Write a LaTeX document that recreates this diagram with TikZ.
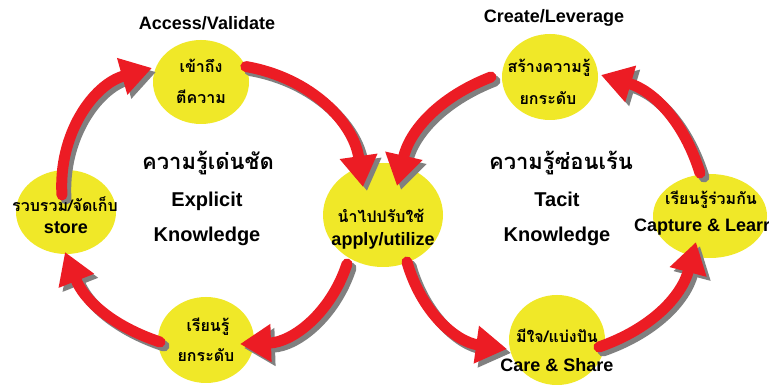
\documentclass[tikz,border=0pt]{standalone}
\usepackage{fontspec}
\setmainfont{Liberation Sans}
\newfontfamily\thai[Script=Thai]{Loma}
\usetikzlibrary{shapes.geometric,arrows.meta,calc}
\definecolor{kyellow}{RGB}{240,232,40}
\definecolor{kred}{RGB}{236,28,36}
\definecolor{kgray}{RGB}{128,128,128}
\begin{document}
\begin{tikzpicture}[x=1pt,y=1pt,
  blob/.style={ellipse, fill=kyellow, draw=none, inner sep=0pt},
  en/.style={font=\bfseries\fontsize{18}{20}\selectfont, inner sep=0pt, anchor=base},
  enbig/.style={font=\bfseries\fontsize{20}{22}\selectfont, inner sep=0pt, anchor=base},
  th/.style={font=\thai\bfseries\fontsize{16}{18}\selectfont, inner sep=0pt, anchor=base},
  thbig/.style={font=\thai\bfseries\fontsize{22}{26}\selectfont, inner sep=0pt, anchor=base},
  redarrow/.style={draw=kred, line width=11pt, line cap=round, -{Triangle[length=31pt,width=36pt]}},
  shadowarrow/.style={draw=kgray, line width=11pt, line cap=round, -{Triangle[length=31pt,width=36pt]}, transform canvas={shift={(4pt,-4pt)}}},
]
\useasboundingbox[fill=white] (0,0) rectangle (769,385);

% circles
\node[blob, minimum width=96pt, minimum height=84pt] (acc) at (201,303) {};
\node[blob, minimum width=100pt, minimum height=84pt] (store) at (66,173) {};
\node[blob, minimum width=120pt, minimum height=104pt] (apply) at (383,170) {};
\node[blob, minimum width=96pt, minimum height=86pt] (learn) at (206,45) {};
\node[blob, minimum width=96pt, minimum height=86pt] (create) at (550,308) {};
\node[blob, minimum width=114pt, minimum height=84pt] (capture) at (710,169) {};
\node[blob, minimum width=96pt, minimum height=90pt] (care) at (557,45) {};

% arrows: left loop (clockwise)
\draw[shadowarrow] (acc.19) to[bend left=36] ($(apply)+(-20,28)$);
\draw[redarrow] (acc.19) to[bend left=36] ($(apply)+(-20,28)$);
\draw[shadowarrow] ($(apply)+(-36,-49)$) to[bend left=35] ($(learn)+(34,-4)$);
\draw[redarrow] ($(apply)+(-36,-49)$) to[bend left=35] ($(learn)+(34,-4)$);
\draw[shadowarrow] ($(learn)+(-46,-2)$) to[bend left=25] ($(store)+(-1,-40)$);
\draw[redarrow] ($(learn)+(-46,-2)$) to[bend left=25] ($(store)+(-1,-40)$);
\draw[shadowarrow] ($(store)+(-4,17)$) to[bend left=39] ($(acc)+(-49,14)$);
\draw[redarrow] ($(store)+(-4,17)$) to[bend left=39] ($(acc)+(-49,14)$);

% arrows: right loop (counter-clockwise)
\draw[shadowarrow] ($(create)+(-59,0)$) to[bend right=28] ($(apply)+(14,29)$);
\draw[redarrow] ($(create)+(-59,0)$) to[bend right=28] ($(apply)+(14,29)$);
\draw[shadowarrow] ($(apply)+(24,-47)$) to[bend right=33] ($(care)+(-50,-9)$);
\draw[redarrow] ($(apply)+(24,-47)$) to[bend right=33] ($(care)+(-50,-9)$);
\draw[shadowarrow] ($(care)+(42,-7)$) to[bend right=28] ($(capture)+(-14,-26)$);
\draw[redarrow] ($(care)+(42,-7)$) to[bend right=28] ($(capture)+(-14,-26)$);
\draw[shadowarrow] ($(capture)+(-10,43)$) to[bend right=28] ($(create)+(51,2)$);
\draw[redarrow] ($(capture)+(-10,43)$) to[bend right=28] ($(create)+(51,2)$);

% circle texts
\node[th] (accT1) at (201,312) {เข้าถึง};
\node[th] (accT2) at (201,281) {ตีความ};
\node[th] (storeT1) at (65,173) {รวบรวม/จัดเก็บ};
\node[en] (storeT2) at (66,151) {store};
\node[th] (applyT1) at (381,162) {นำไปปรับใช้};
\node[en] (applyT2) at (383,139) {apply/utilize};
\node[th] (learnT1) at (208,53) {เรียนรู้};
\node[th] (learnT2) at (206,23) {ยกระดับ};
\node[th] (createT1) at (549,312) {สร้างความรู้};
\node[th] (createT2) at (548,280) {ยกระดับ};
\node[th] (captureT1) at (711,180) {เรียนรู้ร่วมกัน};
\node[en, anchor=base west] (captureT2) at (634,153) {Capture \& Learr};
\node[th] (careT1) at (557,42) {มีใจ/แบ่งปัน};
\node[en] (careT2) at (557,13) {Care \& Share};

% headings
\node[en] (h1) at (207,355) {Access/Validate};
\node[en] (h2) at (554,362) {Create/Leverage};
\node[thbig] (ex1) at (208,215) {ความรู้เด่นชัด};
\node[enbig] (ex2) at (207,178) {Explicit};
\node[enbig] (ex3) at (207,143) {Knowledge};
\node[thbig] (ta1) at (561,215) {ความรู้ซ่อนเร้น};
\node[enbig] (ta2) at (557,178) {Tacit};
\node[enbig] (ta3) at (557,143) {Knowledge};
\end{tikzpicture}
\end{document}
